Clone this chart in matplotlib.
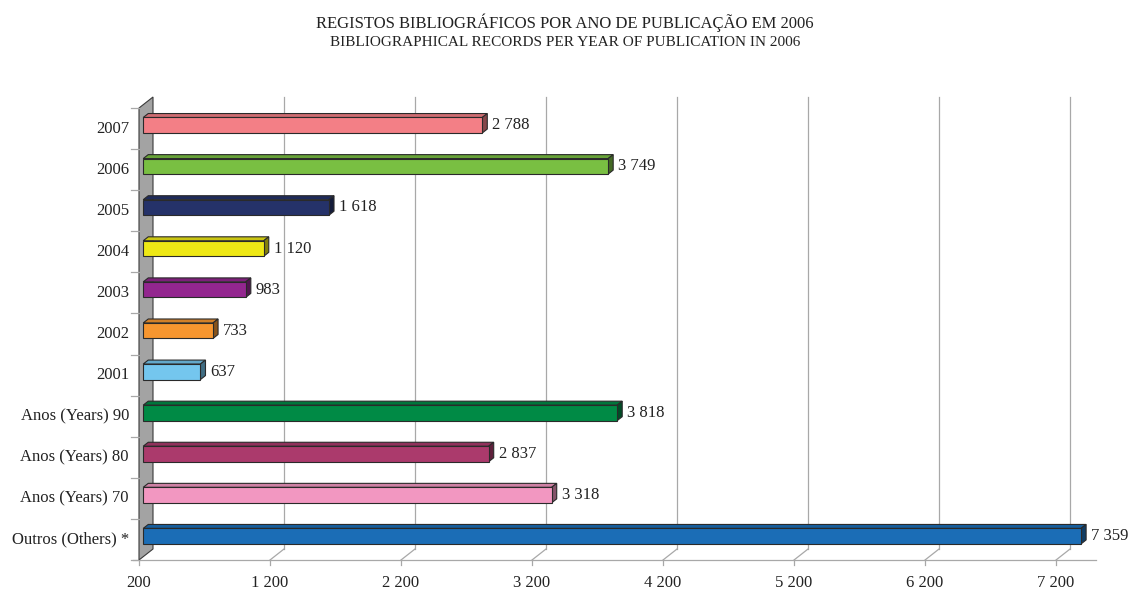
import matplotlib
matplotlib.use("Agg")
import matplotlib.pyplot as plt
from matplotlib.colors import to_rgb

plt.rcParams['font.family'] = ['Liberation Serif', 'DejaVu Serif']

# Chart data (bottom to top)
categories = ["Outros (Others) *", "Anos (Years) 70", "Anos (Years) 80",
              "Anos (Years) 90", "2001", "2002", "2003", "2004", "2005",
              "2006", "2007"]
values = [7359, 3318, 2837, 3818, 637, 733, 983, 1120, 1618, 3749, 2788]
bar_colors = ["#1B6DB6", "#F297C1", "#AB3A6C", "#008A45", "#74C6EE",
              "#F7962F", "#93268F", "#EEE815", "#253269", "#79BF42",
              "#F37F86"]
x_ticks = [200, 1200, 2200, 3200, 4200, 5200, 6200, 7200]
title_pt = "REGISTOS BIBLIOGRÁFICOS POR ANO DE PUBLICAÇÃO EM 2006"
title_en = "BIBLIOGRAPHICAL RECORDS PER YEAR OF PUBLICATION IN 2006"
x_min, x_max = 200, 7505

W, H = 1130, 590
fig = plt.figure(figsize=(W / 100, H / 100), dpi=100)
left_px, right_px, bottom_px, top_px = 139, 1096, 30, 482
ax = fig.add_axes([left_px / W, bottom_px / H,
                   (right_px - left_px) / W, (top_px - bottom_px) / H])
n = len(categories)
ax.set_xlim(x_min, x_max)
ax.set_ylim(0, n)
ax.axis('off')

# data units per pixel, used for the oblique 3-D depth offsets
sx = (x_max - x_min) / (right_px - left_px)
sy = n / (top_px - bottom_px)
DEPTH = (14, 11)


def off(f):
    return DEPTH[0] * f * sx, DEPTH[1] * f * sy


grid_c = "#A8A8A8"
bx, by = off(1.0)

# back-wall gridlines with their floor slants and front ticks
for v in x_ticks:
    if v > x_min:
        ax.plot([v + bx, v + bx], [by, n + by], color=grid_c, lw=0.9,
                clip_on=False, zorder=1)
        ax.plot([v, v + bx], [0, by], color=grid_c, lw=0.9,
                clip_on=False, zorder=1)
    ax.plot([v, v], [0, -5 * sy], color=grid_c, lw=0.9, clip_on=False,
            zorder=1)
    ax.text(v, -23 * sy, f"{v:,}".replace(",", " "), ha="center",
            va="center", fontsize=12, color="#222222")

# front floor edge
ax.plot([x_min - 6 * sx, x_max], [0, 0], color=grid_c, lw=0.9,
        clip_on=False, zorder=1)

# left side wall
ax.fill([x_min, x_min + bx, x_min + bx, x_min],
        [0, by, n + by, n], facecolor="#A3A3A3", edgecolor="#3A3A3A",
        lw=0.8, clip_on=False, zorder=2)
for k in range(n + 1):
    ax.plot([x_min - 8 * sx, x_min], [k, k], color=grid_c, lw=0.9,
            clip_on=False, zorder=2)


def shade(c, k):
    r, g, b = to_rgb(c)
    return (r * k, g * k, b * k)


f0, f1 = 0.30, 0.66
ox0, oy0 = off(f0)
ox1, oy1 = off(f1)
h = 15.5 * sy
for i, (cat, v, c) in enumerate(zip(categories, values, bar_colors)):
    yc = i + 0.5
    b0, t0 = yc - h / 2 + oy0, yc + h / 2 + oy0
    t1 = yc + h / 2 + oy1
    b1 = yc - h / 2 + oy1
    x0 = x_min + ox0
    ax.fill([x0, v + ox0, v + ox1, x_min + ox1], [t0, t0, t1, t1],
            facecolor=shade(c, 0.85), edgecolor="#2A2A2A", lw=0.8,
            clip_on=False, zorder=3)
    ax.fill([v + ox0, v + ox1, v + ox1, v + ox0], [b0, b1, t1, t0],
            facecolor=shade(c, 0.55), edgecolor="#2A2A2A", lw=0.8,
            clip_on=False, zorder=3)
    ax.fill([x0, v + ox0, v + ox0, x0], [b0, b0, t0, t0],
            facecolor=c, edgecolor="#2A2A2A", lw=0.8,
            clip_on=False, zorder=4)
    ax.text(v + ox1 + 5 * sx, yc + oy0, f"{v:,}".replace(",", " "),
            ha="left", va="center", fontsize=12, color="#222222",
            zorder=5)
    ax.text(x_min - 10 * sx, yc, cat, ha="right", va="center",
            fontsize=12, color="#222222")

fig.text(565 / W, 1 - 22.5 / H, title_pt, ha="center", va="center",
         fontsize=12, color="#222222")
fig.text(565 / W, 1 - 42 / H, title_en, ha="center", va="center",
         fontsize=11, color="#222222")

fig.savefig("out.png", dpi=100)
